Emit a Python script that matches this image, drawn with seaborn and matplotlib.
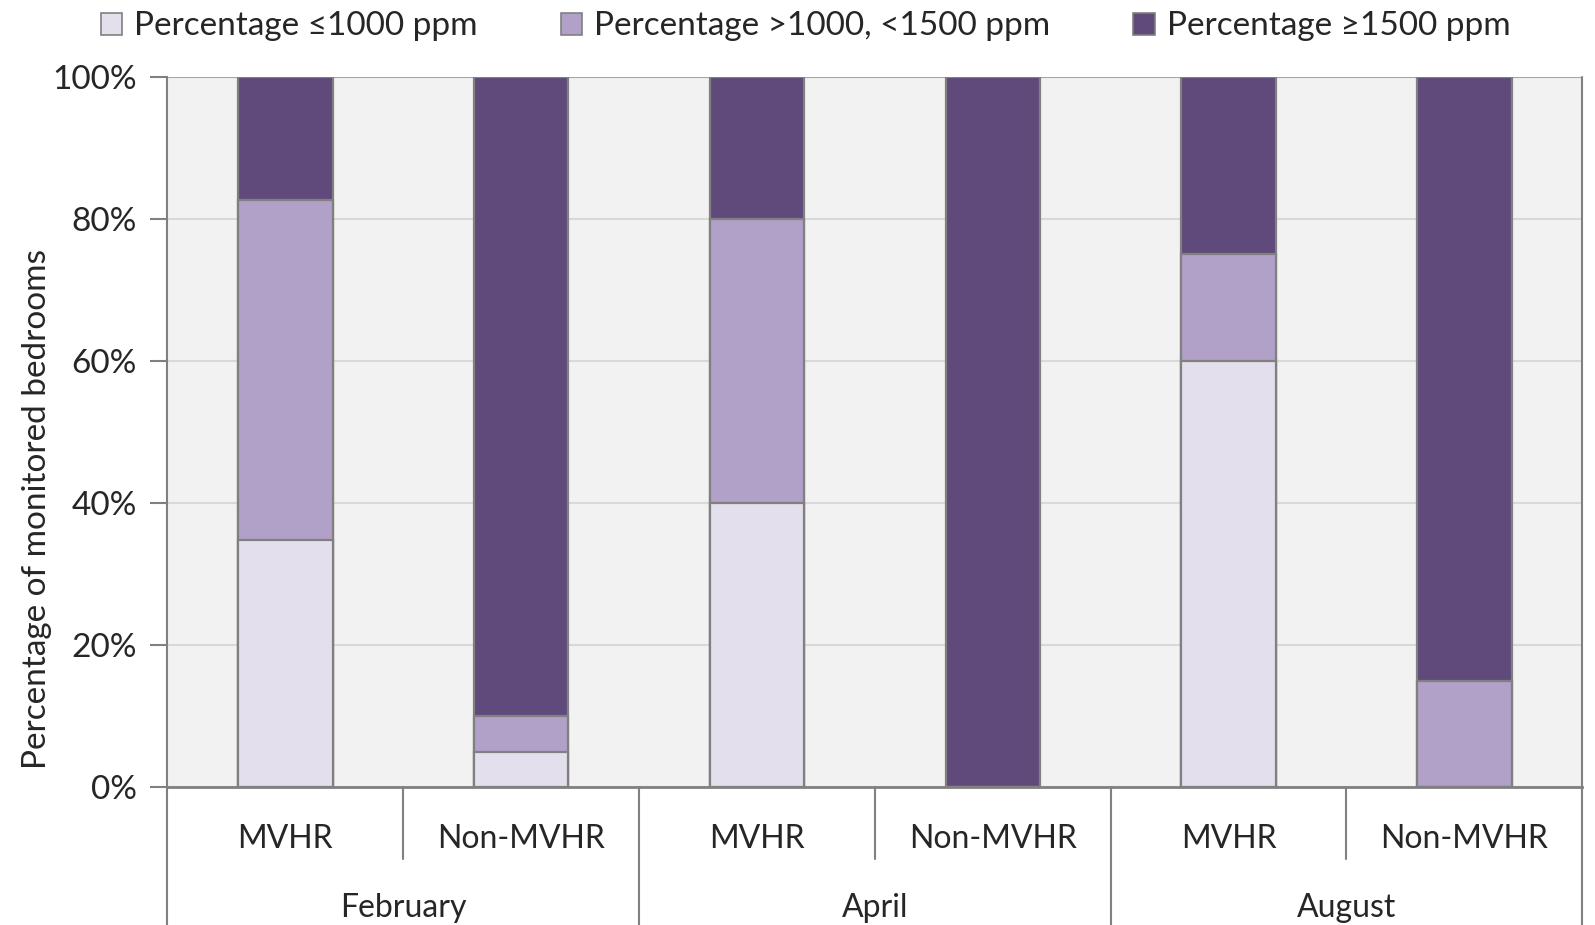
import numpy as np
import pandas as pd
import matplotlib
matplotlib.use("Agg")
import matplotlib.pyplot as plt
import matplotlib.transforms as mtransforms
from matplotlib.patches import Patch
import seaborn as sns

# ---- data ----
months = ["February", "April", "August"]
groups = ["MVHR", "Non-MVHR"]
series_names = ["Percentage \u22641000 ppm", "Percentage >1000, <1500 ppm", "Percentage \u22651500 ppm"]
low = [34.8, 5, 40, 0, 60, 0]
mid = [47.8, 5, 40, 0, 15, 15]
high = [17.4, 90, 20, 100, 25, 85]
y_ticks = [0, 20, 40, 60, 80, 100]
y_label = "Percentage of monitored bedrooms"

colors = ["#E4DFEC", "#B1A0C7", "#604A7B"]
edge = "#808080"

sns.set_style("white")
plt.rcParams["font.family"] = ["Lato", "DejaVu Sans"]
FS = 24
plt.rcParams["font.size"] = FS

slots = [f"{m}|{g}" for m in months for g in groups]
df = pd.DataFrame({
    "slot": slots,
    "c1": np.array(low),
    "c2": np.array(low) + np.array(mid),
    "c3": np.array(low) + np.array(mid) + np.array(high),
})

fig = plt.figure(figsize=(15.95, 9.25), dpi=100)
ax = fig.add_axes([0.105, 0.149, 0.887, 0.768])
ax.set_facecolor("#F2F2F2")

for col, c in zip(["c3", "c2", "c1"], colors[::-1]):
    sns.barplot(data=df, x="slot", y=col, order=slots, color=c, width=0.4,
                edgecolor=edge, linewidth=1.6, saturation=1, ax=ax, zorder=3)

ax.set_xlim(-0.5, len(slots) - 0.5)
ax.set_ylim(0, 100)
ax.set_yticks(y_ticks)
ax.set_yticklabels([f"{v}%" for v in y_ticks], fontsize=FS)
ax.yaxis.grid(True, color="#D9D9D9", linewidth=1.5, zorder=0)
ax.set_axisbelow(True)
ax.set_xticks([])
ax.set_xlabel("")
ax.set_ylabel("")
ax.tick_params(axis="y", which="both", left=True, length=12, color=edge, width=1.5, pad=10)

for s in ["top", "right"]:
    ax.spines[s].set_visible(False)
ax.spines["left"].set_color(edge)
ax.spines["left"].set_linewidth(1.5)
ax.spines["bottom"].set_color(edge)
ax.spines["bottom"].set_linewidth(2)

ax.axhline(100, color="#A6A6A6", linewidth=1.5, zorder=1)

# category axis
trans = mtransforms.blended_transform_factory(ax.transData, ax.transAxes)
sub_y = -0.073
mon_y = -0.170
short_end = -0.101
long_end = -0.196
for i, s in enumerate(slots):
    ax.text(i, sub_y, s.split("|")[1], transform=trans, ha="center", va="center", fontsize=FS - 1)
for j, m in enumerate(months):
    ax.text(2 * j + 0.5, mon_y, m, transform=trans, ha="center", va="center", fontsize=FS - 1)
    ax.plot([2 * j + 0.5, 2 * j + 0.5], [0, short_end], transform=trans, color=edge,
            linewidth=1.5, clip_on=False)
for xb in [-0.5, 1.5, 3.5, 5.5]:
    ax.plot([xb, xb], [0, long_end], transform=trans, color=edge, linewidth=1.5, clip_on=False)
ax.plot([5.5, 5.5], [0, 1], transform=trans, color=edge, linewidth=1.5, clip_on=False)

fig.text(0.023, 0.45, y_label, rotation=90, ha="center", va="center", fontsize=FS)

handles = [Patch(facecolor=c, edgecolor=edge, linewidth=1.2) for c in colors]
fig.legend(handles, series_names, loc="upper center", bbox_to_anchor=(0.505, 1.02), ncol=3,
           frameon=False, fontsize=FS, handlelength=0.65, handleheight=0.65,
           handletextpad=0.35, columnspacing=2.5)

fig.savefig("out.png", dpi=100)
